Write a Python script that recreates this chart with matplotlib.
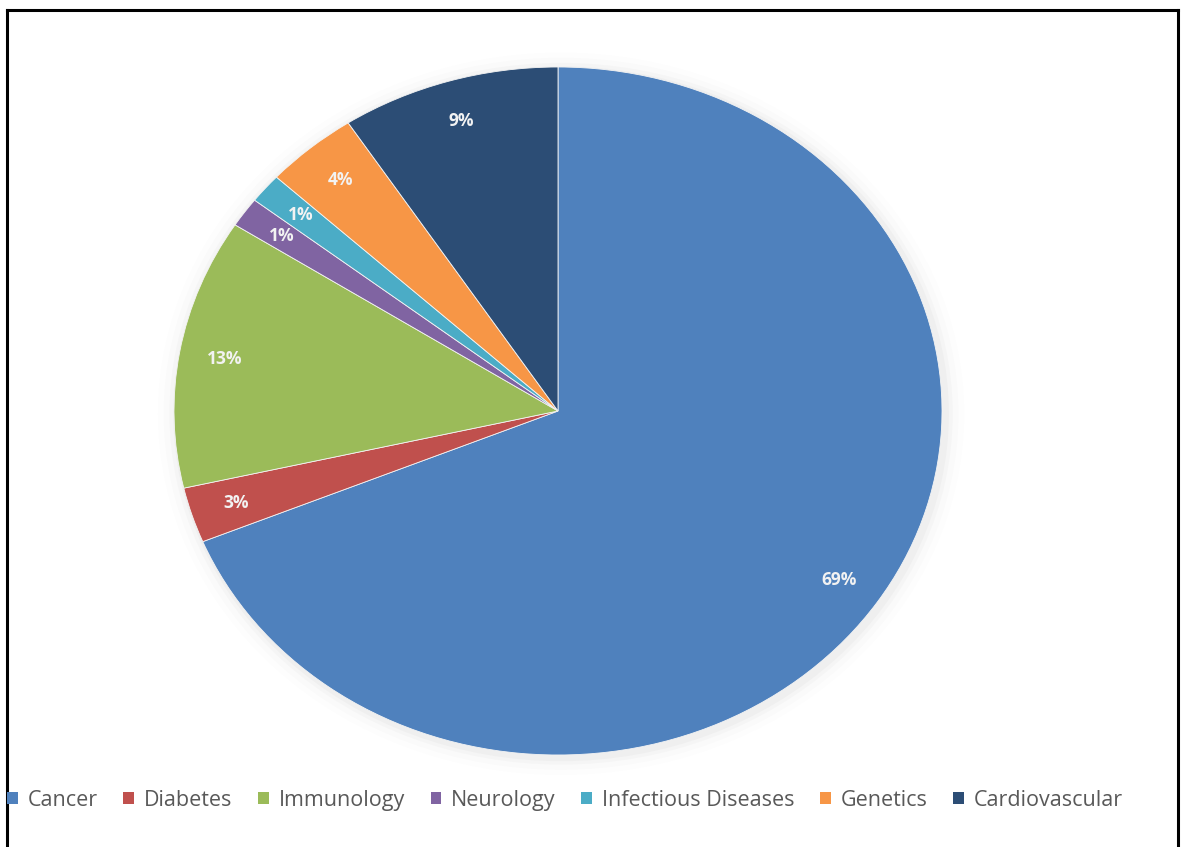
import matplotlib.pyplot as plt
from matplotlib.patches import Patch, Ellipse
from matplotlib.lines import Line2D

categories = ['Cancer', 'Diabetes', 'Immunology', 'Neurology',
              'Infectious Diseases', 'Genetics', 'Cardiovascular']
shares = [68.8, 2.6, 12.7, 1.4, 1.4, 3.9, 9.2]
colors = ['#4F81BD', '#C0504D', '#9BBB59', '#8064A2',
          '#4BACC6', '#F79646', '#2C4D75']

W, H = 1182, 847
fig = plt.figure(figsize=(W / 100, H / 100), dpi=100)

# pie is stretched into an ellipse, centre (558, 411) px, radii 384 x 344
cx, cy, rx, ry = 558, 411, 384, 344
ax = fig.add_axes([(cx - rx) / W, (H - cy - ry) / H, 2 * rx / W, 2 * ry / H])

# soft shadow round the pie
for k, a in [(1.05, 0.015), (1.035, 0.025), (1.02, 0.04), (1.01, 0.05)]:
    ax.add_patch(Ellipse((0.008, -0.008), 2 * k, 2 * k, color='#8a8a8a',
                         alpha=a, lw=0, zorder=0, clip_on=False))

wedges, texts, autotexts = ax.pie(shares, colors=colors, startangle=90,
                                  counterclock=False, autopct='%1.0f%%',
                                  pctdistance=0.88,
                                  wedgeprops=dict(linewidth=0.6, edgecolor='#f4f4f4'),
                                  textprops=dict(color='#f2f2f2', fontsize=12.5,
                                                 fontweight='bold', family='Open Sans'))
ax.set_aspect('auto')
ax.set_xlim(-1, 1)
ax.set_ylim(-1, 1)

handles = [Patch(facecolor=c, edgecolor='none') for c in colors]
fig.legend(handles, categories, loc='center left',
           bbox_to_anchor=(7 / W, 1 - 800 / H), ncol=7, frameon=False,
           handlelength=0.5, handleheight=0.5, handletextpad=0.45,
           columnspacing=1.2, borderaxespad=0, borderpad=0,
           prop=dict(family='Open Sans', size=15.5), labelcolor='#595959')

# frame lines of the original picture
for xs, ys in [([7, 7], [10, H]), ([7, 1178], [10, 10]), ([1178, 1178], [10, H])]:
    fig.add_artist(Line2D([x / W for x in xs], [1 - y / H for y in ys],
                          color='black', lw=2.2, transform=fig.transFigure))

fig.savefig('out.png', dpi=100)
